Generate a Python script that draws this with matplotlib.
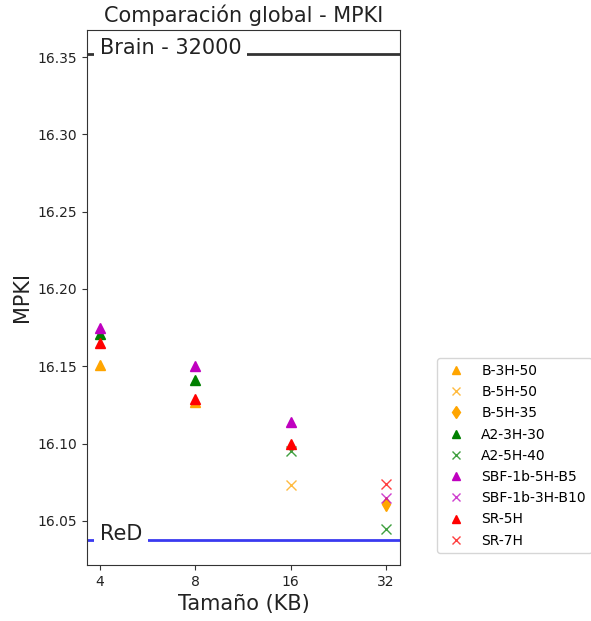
import matplotlib
matplotlib.use("Agg")
import matplotlib.pyplot as plt

sizes = [4, 8, 16, 32]
size_labels = ["4", "8", "16", "32"]

# series: (label, x values, y values)
b3h50_x = [4, 8]
b3h50_y = [16.151, 16.127]
b5h50_x = [16]
b5h50_y = [16.073]
b5h35_x = [32]
b5h35_y = [16.061]
a23h30_x = [4, 8]
a23h30_y = [16.171, 16.141]
a25h40_x = [16, 32]
a25h40_y = [16.095, 16.045]
sbf5_x = [4, 8, 16]
sbf5_y = [16.175, 16.150, 16.114]
sbf3_x = [32]
sbf3_y = [16.065]
sr5_x = [4, 8, 16]
sr5_y = [16.165, 16.129, 16.100]
sr7_x = [32]
sr7_y = [16.074]

brain_value = 16.352
red_value = 16.0375

fig = plt.figure(figsize=(5.91, 6.21), dpi=100)
ax = fig.add_axes([0.1472, 0.0902, 0.5296, 0.8615])

ax.axhline(brain_value, color="#333333", lw=2, zorder=1)
ax.axhline(red_value, color="#3a3af0", lw=2, zorder=1)

ms = 6.7
ax.plot(b3h50_x, b3h50_y, "^", color="orange", ms=ms, ls="none", label="B-3H-50")
ax.plot(b5h50_x, b5h50_y, "x", color="orange", ms=ms, alpha=0.75, ls="none", label="B-5H-50")
ax.plot(b5h35_x, b5h35_y, "d", color="orange", ms=ms, ls="none", label="B-5H-35")
ax.plot(a23h30_x, a23h30_y, "^", color="green", ms=ms, ls="none", label="A2-3H-30")
ax.plot(a25h40_x, a25h40_y, "x", color="green", ms=ms, alpha=0.75, ls="none", label="A2-5H-40")
ax.plot(sbf5_x, sbf5_y, "^", color="m", ms=ms, ls="none", label="SBF-1b-5H-B5")
ax.plot(sbf3_x, sbf3_y, "x", color="m", ms=ms, alpha=0.75, ls="none", label="SBF-1b-3H-B10")
ax.plot(sr5_x, sr5_y, "^", color="red", ms=ms, ls="none", label="SR-5H")
ax.plot(sr7_x, sr7_y, "x", color="red", ms=ms, alpha=0.75, ls="none", label="SR-7H")

ax.text(4, brain_value, "Brain - 32000", fontsize=15, ha="left", va="baseline",
        color="#222222", bbox=dict(facecolor="white", edgecolor="none", pad=4), zorder=2)
ax.text(4, red_value, "ReD", fontsize=15, ha="left", va="baseline",
        color="#222222", bbox=dict(facecolor="white", edgecolor="none", pad=4), zorder=2)

ax.set_xscale("log", base=2)
ax.set_xlim(3.64, 35.4)
ax.set_xticks(sizes)
ax.set_xticklabels(size_labels)
ax.minorticks_off()
ax.set_ylim(16.0215, 16.3675)
ax.set_yticks([16.05, 16.10, 16.15, 16.20, 16.25, 16.30, 16.35])
ax.set_yticklabels(["16.05", "16.10", "16.15", "16.20", "16.25", "16.30", "16.35"])
ax.tick_params(labelsize=10, colors="#333333", labelcolor="#222222")
for s in ax.spines.values():
    s.set_color("#333333")

ax.set_xlabel("Tamaño (KB)", fontsize=15, color="#222222")
ax.set_ylabel("MPKI", fontsize=15, color="#222222")
ax.set_title("Comparación global - MPKI", fontsize=15, color="#222222")

ax.legend(loc="lower left", bbox_to_anchor=(1.118, 0.022), borderaxespad=0,
          fontsize=10, numpoints=1, labelspacing=0.52, markerscale=0.9, frameon=True)

fig.savefig("out.png", dpi=100)
